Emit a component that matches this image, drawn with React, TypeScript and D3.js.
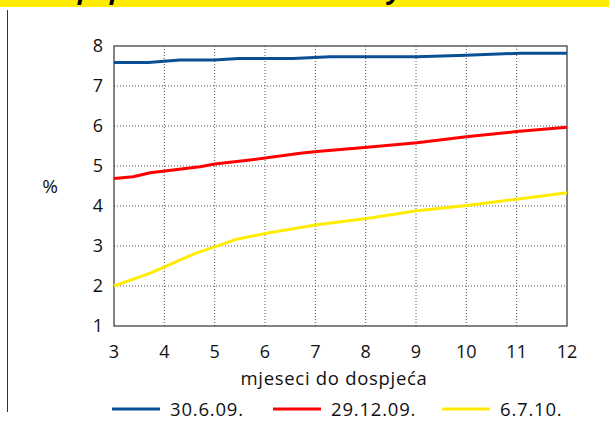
import React from "react";
import * as d3 from "d3";

const months30609 = [3, 3.68, 4.31, 5.0, 5.47, 6.56, 7.29, 9.02, 10.0, 11.07, 12];
const values30609 = [7.59, 7.59, 7.65, 7.65, 7.69, 7.69, 7.73, 7.73, 7.77, 7.82, 7.82];

const months291209 = [3, 3.38, 3.72, 4.71, 5.0, 5.7, 6.7, 7.03, 8.03, 9.02, 10.0, 11.0, 12];
const values291209 = [4.69, 4.73, 4.83, 4.98, 5.05, 5.15, 5.32, 5.36, 5.47, 5.58, 5.73, 5.86, 5.97];

const months6710 = [3, 3.72, 4.64, 5.0, 5.44, 6.03, 7.03, 8.02, 9.02, 10.0, 11.0, 12];
const values6710 = [2.0, 2.32, 2.83, 2.98, 3.17, 3.32, 3.53, 3.69, 3.88, 4.01, 4.17, 4.33];

const seriesNames = ["30.6.09.", "29.12.09.", "6.7.10."];
const seriesColors = ["#0a4f96", "#ff0000", "#ffec00"];
const xTicks = [3, 4, 5, 6, 7, 8, 9, 10, 11, 12];
const yTicks = [1, 2, 3, 4, 5, 6, 7, 8];
const xLabel = "mjeseci do dospjeća";
const yLabel = "%";

const W = 609;
const H = 425;
const FONT = "'Open Sans', 'DejaVu Sans', sans-serif";

export default function App() {
  const x = d3.scaleLinear().domain([3, 12]).range([114, 567]);
  const y = d3.scaleLinear().domain([1, 8]).range([326, 46]);
  const line = d3
    .line<[number, number]>()
    .x((d) => x(d[0]))
    .y((d) => y(d[1]));
  const series = [
    d3.zip(months30609, values30609) as [number, number][],
    d3.zip(months291209, values291209) as [number, number][],
    d3.zip(months6710, values6710) as [number, number][],
  ];
  const legendX = [112, 273, 442];

  return (
    <svg
      width={W}
      height={H}
      style={{ position: "absolute", left: 0, top: 0, background: "#fff" }}
      fontFamily={FONT}
    >
      <rect x={0} y={0} width={W} height={7} fill="#ffec00" />
      <g fontStyle="italic" fontWeight="bold" fontSize={26} fill="#000">
        <text x={78} y={-1}>p</text>
        <text x={110} y={-1}>p</text>
        <text x={388} y={-1}>y</text>
      </g>
      <line x1={7.5} x2={7.5} y1={10} y2={412} stroke="#333" strokeWidth={1} />

      {/* grid */}
      {xTicks.slice(1, -1).map((t) => (
        <line
          key={"gx" + t}
          x1={x(t)}
          x2={x(t)}
          y1={y(8)}
          y2={y(1)}
          stroke="#555"
          strokeWidth={1}
          strokeDasharray="1,2"
        />
      ))}
      {yTicks.slice(1, -1).map((t) => (
        <line
          key={"gy" + t}
          x1={x(3)}
          x2={x(12)}
          y1={y(t)}
          y2={y(t)}
          stroke="#555"
          strokeWidth={1}
          strokeDasharray="1,2"
        />
      ))}
      <rect
        x={x(3)}
        y={y(8)}
        width={x(12) - x(3)}
        height={y(1) - y(8)}
        fill="none"
        stroke="#333"
        strokeWidth={1.2}
      />

      {series.map((s, i) => (
        <path
          key={"s" + i}
          d={line(s) || ""}
          fill="none"
          stroke={seriesColors[i]}
          strokeWidth={3}
          strokeLinejoin="round"
        />
      ))}

      {yTicks.map((t) => (
        <text
          key={"yl" + t}
          x={103}
          y={y(t)}
          dy="0.36em"
          textAnchor="end"
          fontSize={18}
          fill="#111"
        >
          {t}
        </text>
      ))}
      {xTicks.map((t) => (
        <text
          key={"xl" + t}
          x={x(t)}
          y={352}
          dy="0.36em"
          textAnchor="middle"
          fontSize={18}
          fill="#111"
        >
          {t}
        </text>
      ))}
      <text
        x={334}
        y={378}
        dy="0.36em"
        textAnchor="middle"
        fontSize={18.5}
        letterSpacing={0.7}
        fill="#111"
      >
        {xLabel}
      </text>
      <text x={50} y={186.5} dy="0.36em" textAnchor="middle" fontSize={19} fill="#111">
        {yLabel}
      </text>

      {seriesNames.map((n, i) => (
        <g key={"lg" + i}>
          <line
            x1={legendX[i]}
            x2={legendX[i] + 48}
            y1={409}
            y2={409}
            stroke={seriesColors[i]}
            strokeWidth={3}
          />
          <text
            x={legendX[i] + 58}
            y={409}
            dy="0.36em"
            fontSize={18.5}
            letterSpacing={0.8}
            fill="#111"
          >
            {n}
          </text>
        </g>
      ))}
    </svg>
  );
}
